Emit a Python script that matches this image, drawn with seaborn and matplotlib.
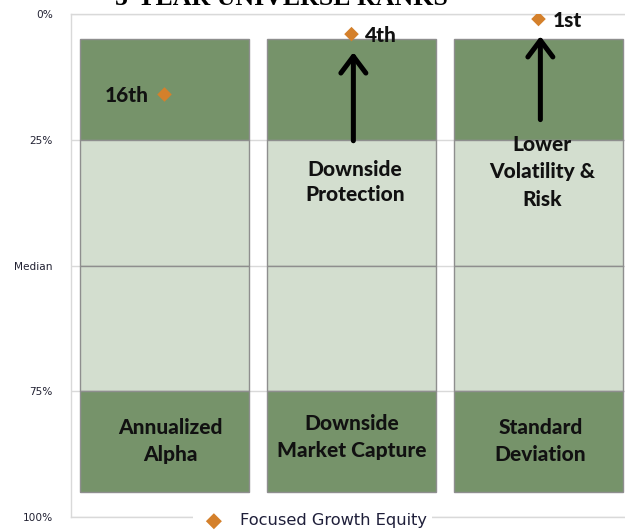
import matplotlib
matplotlib.use("Agg")
import matplotlib.pyplot as plt
import seaborn as sns

# ---- data ----
categories = ["Annualized Alpha", "Downside Market Capture", "Standard Deviation"]
band_starts = [5, 25, 50, 75]
band_ends = [25, 50, 75, 95]
ranks = [16, 4, 1]
rank_labels = ["16th", "4th", "1st"]
bar_texts = ["Annualized\nAlpha", "Downside\nMarket Capture", "Standard\nDeviation"]
ytick_vals = [0, 25, 50, 75, 100]
ytick_labels = ["0%", "25%", "Median", "75%", "100%"]
series_name = "Focused Growth Equity"
title = "5-YEAR UNIVERSE RANKS"

# ---- style ----
sns.set_style("white")
dark = "#76936A"
light = "#D3DECF"
edge = "#8E8E8E"
orange = "#D4802B"
grid = "#D9D9D9"
bold_font = ["Lato", "DejaVu Sans"]
fw = "black"
fs = 15

fig = plt.figure(figsize=(6.25, 5.3), dpi=100)
ax = fig.add_axes([71 / 625, 13 / 530, 561 / 625, 503 / 530])

band_colors = [dark, light, light, dark]
for start, end, col in zip(band_starts, band_ends, band_colors):
    sns.barplot(x=categories, y=[end - start] * len(categories), bottom=start,
                color=col, width=0.9, edgecolor=edge, linewidth=1.0,
                saturation=1, ax=ax, zorder=2)

sns.scatterplot(x=categories, y=ranks, marker="D", color=orange, s=55,
                edgecolor="none", label=series_name, ax=ax, zorder=5)

ax.set_xlim(-0.5, 2.5)
ax.set_ylim(100, 0)
ax.set_yticks(ytick_vals)
ax.set_yticklabels(ytick_labels)
ax.set_xticks([])
ax.set_xlabel("")
ax.set_ylabel("")
ax.tick_params(axis="y", length=0, pad=13, labelsize=7.6, labelcolor="#222233")
for lab in ax.get_yticklabels():
    lab.set_fontfamily("DejaVu Sans")
ax.yaxis.grid(True, color=grid, linewidth=1.0, zorder=0)
ax.set_axisbelow(True)
for s in ["left", "top", "bottom", "right"]:
    ax.spines[s].set_color(grid)
    ax.spines[s].set_linewidth(1.0)

# rank labels
offsets = [(-11.5, "right"), (9.4, "left"), (10, "left")]
for i, (r, lab) in enumerate(zip(ranks, rank_labels)):
    dx, ha = offsets[i]
    ax.annotate(lab, (i, r), xytext=(dx, -1), textcoords="offset points",
                ha=ha, va="center", fontsize=fs, fontweight=fw,
                family=bold_font, color="#111111", zorder=6)

# bottom texts in bars
bar_text_pos = [(0.03, 84.9), (1.0, 84.1), (2.01, 84.9)]
for (x, y), t in zip(bar_text_pos, bar_texts):
    ax.text(x, y, t, ha="center", va="center", fontsize=fs, fontweight=fw,
            family=bold_font, color="#111111", linespacing=1.45, zorder=6)

# annotations with arrows
ax.text(1.02, 33.4, "Downside\nProtection", ha="center", va="center", fontsize=fs,
        fontweight=fw, family=bold_font, color="#111111", linespacing=1.33, zorder=6)
ax.text(2.02, 31.4, "Lower\nVolatility &\nRisk", ha="center", va="center", fontsize=fs,
        fontweight=fw, family=bold_font, color="#111111", linespacing=1.52, zorder=6)

arrow_props = dict(arrowstyle="->,head_length=0.6,head_width=0.45", lw=3.6,
                   color="black", mutation_scale=20, shrinkA=0, shrinkB=0)
ax.annotate("", xy=(1.01, 7.6), xytext=(1.01, 25.2), arrowprops=arrow_props, zorder=6)
ax.annotate("", xy=(2.01, 4.4), xytext=(2.01, 21.0), arrowprops=arrow_props, zorder=6)

# legend
leg = ax.legend(loc="center", bbox_to_anchor=(0.4996, 0.017), bbox_transform=fig.transFigure,
                frameon=True, facecolor="white", edgecolor="none", framealpha=1,
                prop={"family": "DejaVu Sans", "size": 11.7}, handletextpad=0.6,
                borderpad=0.3, markerscale=1.1)
for t in leg.get_texts():
    t.set_color("#1F1F3A")

fig.text(0.45, 1 - 5 / 530, title, ha="center", va="baseline",
         family="Liberation Serif", fontweight="bold", fontsize=18.6, color="black")

fig.savefig("out.png", dpi=100)
